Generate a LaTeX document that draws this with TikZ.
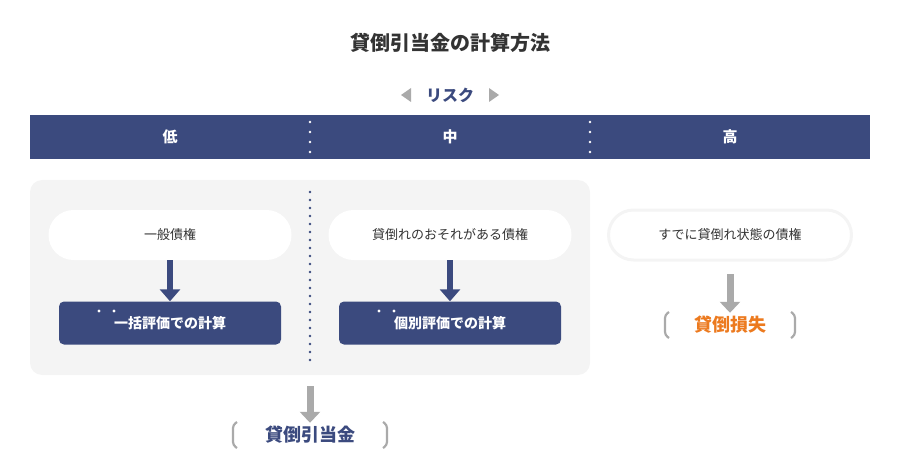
\documentclass[tikz,border=0pt]{standalone}
\usepackage{fontspec}
\setmainfont{Noto Sans CJK JP}
\usetikzlibrary{arrows.meta,positioning}
\definecolor{navy}{HTML}{3B4A7E}
\definecolor{panel}{HTML}{F4F4F4}
\definecolor{arrowgray}{HTML}{AAAAAA}
\definecolor{textgray}{HTML}{333333}
\definecolor{lossorange}{HTML}{EC7A1F}
\tikzset{
  pill/.style={rounded corners=25pt, fill=white, minimum width=243pt, minimum height=50pt, text=textgray, font=\fontsize{13}{15}\selectfont},
  calcbox/.style={rounded corners=5pt, fill=navy, minimum width=222pt, minimum height=43pt, text=white, font=\bfseries\fontsize{14}{16}\selectfont},
  navyarrow/.style={navy, line width=6pt, -{Triangle[width=20pt,length=12pt]}},
  grayarrow/.style={arrowgray, line width=7pt, -{Triangle[width=20pt,length=11pt]}},
  dotline/.style={navy, line width=2.6pt, line cap=round, dash pattern=on 0pt off 8pt},
  bracket/.style={arrowgray, line width=2.2pt, rounded corners=3pt}
}
\begin{document}
\begin{tikzpicture}[x=1pt,y=-1pt]
\useasboundingbox (0,0) rectangle (900,476);
% title and risk scale
\node (title) at (450,43) [text=textgray, font=\bfseries\fontsize{20}{22}\selectfont] {貸倒引当金の計算方法};
\node (risk) at (450,95) [text=navy, font=\bfseries\fontsize{16}{18}\selectfont] {リスク};
\fill[arrowgray] (401,95) -- (411,88) -- (411,102) -- cycle;
\fill[arrowgray] (499,95) -- (489,88) -- (489,102) -- cycle;
\fill[navy] (30,115) rectangle (870,159);
\node (low) at (170,137) [text=white, font=\bfseries\fontsize{15}{17}\selectfont] {低};
\node (mid) at (450,137) [text=white, font=\bfseries\fontsize{15}{17}\selectfont] {中};
\node (high) at (730,137) [text=white, font=\bfseries\fontsize{15}{17}\selectfont] {高};
\draw[white, line width=2.6pt, line cap=round, dash pattern=on 0pt off 10pt] (310,122) -- (310,154);
\draw[white, line width=2.6pt, line cap=round, dash pattern=on 0pt off 10pt] (590,122) -- (590,154);
% panel
\fill[panel, rounded corners=12pt] (30,180) rectangle (590,375);
\draw[dotline] (310,192) -- (310,365);
% boxes
\node (general) at (170,235) [pill] {一般債権};
\node (doubtful) at (450,235) [pill] {貸倒れのおそれがある債権};
\node (bankrupt) at (730,235) [pill, draw=panel, line width=3pt] {すでに貸倒れ状態の債権};
\node (bulk) at (170,323) [calcbox] {一括評価での計算};
\node (indiv) at (450,323) [calcbox] {個別評価での計算};
\foreach \x in {99,114,379,394} \fill[white] (\x,311) circle (1.6pt);
\draw[navyarrow] (general.south) -- (bulk.north);
\draw[navyarrow] (doubtful.south) -- (indiv.north);
% results
\node (loss) at (730,325) [text=lossorange, font=\bfseries\fontsize{18}{20}\selectfont] {貸倒損失};
\draw[bracket] (669,312) -- (665,315) -- (665,335) -- (669,338);
\draw[bracket] (791,312) -- (795,315) -- (795,335) -- (791,338);
\draw[grayarrow] (730,274) -- (loss.north);
\node (allow) at (310,435) [text=navy, font=\bfseries\fontsize{18}{20}\selectfont] {貸倒引当金};
\draw[bracket] (237,422) -- (233,425) -- (233,445) -- (237,448);
\draw[bracket] (383,422) -- (387,425) -- (387,445) -- (383,448);
\coordinate (panelfoot) at (310,386);
\draw[grayarrow] (panelfoot) -- (allow.north);
\end{tikzpicture}
\end{document}
